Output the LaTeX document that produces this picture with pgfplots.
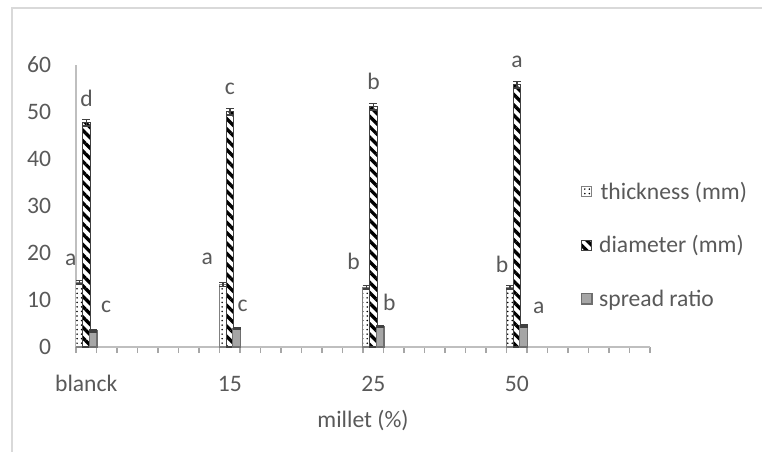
\documentclass[border=0pt]{standalone}
\usepackage{pgfplots}
\usepackage{pgfplotstable}
\pgfplotsset{compat=1.18}
\usepackage{fontspec}
\setmainfont{Carlito}
\usetikzlibrary{patterns.meta}

\definecolor{txt}{HTML}{595959}
\definecolor{axgray}{HTML}{BFBFBF}
\definecolor{tickgray}{HTML}{A6A6A6}
\definecolor{frame}{HTML}{D9D9D9}
\definecolor{barline}{HTML}{404040}
\definecolor{spreadfill}{HTML}{A6A6A6}
\definecolor{spreadline}{HTML}{6E6E6E}

% x = slot position, y = value, e = error, lab = letter, dx/dy = letter offset (px)
\pgfplotstableread{
x     y     e    lab dx  dy
0.18  13.8  0.4  a   -9  22
7.18  13.3  0.4  a   -16 26
14.18 12.7  0.4  b   -13 26
21.18 12.7  0.4  b   -8  23
}\thickness
\pgfplotstableread{
x     y     e    lab dx  dy
0.51  47.7  0.7  d   0   24
7.51  50.1  0.7  c   0   23
14.51 51.1  0.7  b   0   25
21.51 55.8  0.7  a   0   23
}\diameter
\pgfplotstableread{
x     y     e    lab dx  dy
0.84  3.4   0.2  c   13  24
7.84  4.0   0.2  c   6   22
14.84 4.3   0.2  b   9   24
21.84 4.5   0.2  a   15  18
}\spread

\pgfplotsset{
  errs/.style={
    error bars/y dir=both, error bars/y explicit,
    error bars/error bar style={line width=1.1pt, color=barline},
    error bars/error mark options={rotate=90, mark size=3pt, line width=1.1pt, color=barline},
  },
}
\newcommand{\lbl}{\fontsize{17.7}{21}\selectfont}

\begin{document}
\begin{tikzpicture}
  \useasboundingbox (-57pt,-78.75pt) rectangle (514.5pt,260.25pt);
  \draw[frame, line width=1.9pt] (-48pt,-80pt) -- (-48pt,254.25pt) -- (516pt,254.25pt);
  \begin{axis}[
      scale only axis,
      width=430.5pt, height=211.5pt,
      xmin=0, xmax=28, ymin=0, ymax=60,
      axis x line*=bottom, axis y line*=left,
      axis line style={axgray, line width=1.3pt},
      ybar, bar width=0.38, bar shift=0pt,
      xtick={0,1,...,28},
      xticklabels={},
      extra x ticks={0.5,7.5,14.5,21.5},
      extra x tick labels={blanck,15,25,50},
      extra x tick style={major tick length=0pt,
        xticklabel style={anchor=base, inner sep=0pt, yshift=-33.5pt}},
      ytick={0,10,...,60},
      tick align=outside,
      major tick length=4.5pt,
      x tick style={color=tickgray, line width=1.2pt},
      y tick style={draw=none},
      tick label style={font=\lbl, text=txt},
      /pgf/number format/assume math mode=true,
      yticklabel style={anchor=east, inner sep=0pt, xshift=-14pt},
      xlabel={millet (\%)},
      xlabel style={at={(axis description cs:0.5,0)}, anchor=base, inner sep=0pt,
        yshift=-60pt, font=\lbl, text=txt},
      legend style={at={(axis description cs:0.879,0.362)}, anchor=west,
        draw=none, fill=none, inner sep=0pt, row sep=22pt,
        font=\lbl, text=txt},
      legend cell align=left,
      legend image code/.code={\draw[#1] (0pt,-3.9pt) rectangle (7.8pt,3.9pt);},
      point meta=explicit symbolic,
      nodes near coords,
      visualization depends on={\thisrow{dx} \as \dx},
      visualization depends on={\thisrow{dy} \as \dy},
      every node near coord/.append style={anchor=center,
        font=\lbl, text=txt,
        xshift=\dx*0.75pt, yshift=\dy*0.75pt},
    ]
    \addplot[draw=gray, line width=0.8pt, preaction={fill=white},
      pattern={Dots[distance=3.4pt, radius=0.65pt]}, errs]
      table[x=x, y=y, y error=e, meta=lab] {\thickness};
    \addlegendentry{\ thickness (mm)}
    \addplot[draw=barline, line width=0.8pt, preaction={fill=white},
      pattern={Lines[angle=-45, distance=5.5pt, line width=2.5pt]}, errs]
      table[x=x, y=y, y error=e, meta=lab] {\diameter};
    \addlegendentry{\,diameter (mm)}
    \addplot[draw=spreadline, line width=1pt, fill=spreadfill, errs]
      table[x=x, y=y, y error=e, meta=lab] {\spread};
    \addlegendentry{\,spread ratio}
  \end{axis}
\end{tikzpicture}
\end{document}
